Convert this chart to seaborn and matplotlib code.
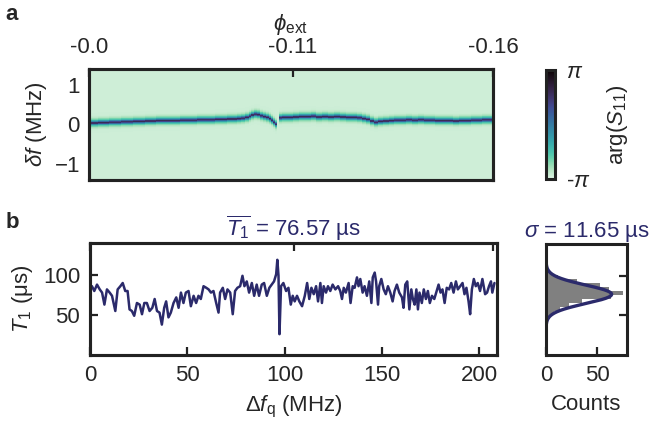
import numpy as np
import seaborn as sns
import matplotlib.pyplot as plt

# ---- data ----
# panel a: resonance position per flux point (nan = line missing)
scan_mhz = [0, 3, 6, 9, 12, 15, 18, 21, 24, 27, 30, 33, 36, 39, 42, 45, 48, 51, 54, 57,
            60, 63, 66, 69, 72, 75, 77, 79, 81, 82.5, 84, 85.5, 87, 88.5, 90, 91.5, 93, 94, 95, 96,
            97, 98, 99.5, 101, 103, 106, 109, 112, 115, 118, 121, 124, 127, 130, 133, 136, 139, 141,
            143, 145, 147, 149, 152, 155, 158, 161, 164, 167, 170, 173, 176, 179, 182, 185, 188,
            191, 194, 197, 200, 203, 206]
res_shift_mhz = [0.04, 0.04, 0.05, 0.05, 0.06, 0.06, 0.07, 0.07, 0.08, 0.08, 0.09, 0.09, 0.10,
                 0.10, 0.10, 0.10, 0.11, 0.11, 0.11, 0.12, 0.12, 0.12, 0.13, 0.13, 0.14, 0.14,
                 0.15, 0.16, 0.18, 0.21, 0.24, 0.26, 0.25, 0.22, 0.20, 0.18, 0.15, 0.11, 0.06, 0.01,
                 np.nan, 0.17, 0.18, 0.18, 0.18, 0.19, 0.20, 0.20, 0.21, 0.19, 0.20, 0.19, 0.20,
                 0.19, 0.18, 0.18, 0.17, 0.15, 0.13, 0.09, 0.06, 0.08, 0.09, 0.10, 0.11, 0.11,
                 0.12, 0.11, 0.12, 0.11, 0.11, 0.10, 0.10, 0.10, 0.09, 0.10, 0.10, 0.11, 0.11,
                 0.12, 0.12]

phi_tick_mhz = [0, 104.5, 207]
phi_labels = ["-0.0", "-0.11", "-0.16"]

# panel b: T1 trace
freq_mhz = [0.0, 1.0, 2.2, 3.6, 5.0, 6.2, 7.4, 8.7, 10.1, 11.3,
            13.0, 14.2, 15.6, 16.8, 18.1, 19.3, 20.3, 21.5, 22.7, 24.1,
            25.5, 26.7, 27.9, 29.2, 30.6, 32.0, 33.2, 34.4, 35.7, 36.9,
            38.1, 39.1, 40.3, 41.5, 42.9, 44.3, 45.5, 46.7, 48.0, 49.2,
            50.6, 51.8, 53.2, 54.5, 55.7, 56.9, 58.3, 59.7, 60.9, 62.1,
            63.4, 64.8, 66.0, 66.8, 68.2, 69.4, 70.6, 72.0, 73.3, 74.5,
            75.7, 77.1, 78.3, 79.3, 80.5, 81.7, 83.1, 84.3, 85.6, 86.8,
            88.2, 89.4, 90.8, 92.1, 93.3, 94.5, 95.6, 96.2, 96.8, 97.3,
            98.1, 99.3, 100.7, 101.9, 103.1, 104.1,
            105.1, 106.3, 107.5, 108.9, 110.3, 111.5, 112.6, 113.7, 114.9, 116.1,
            117.1, 118.3, 119.1, 120.0, 121.2, 122.2, 123.4, 124.6, 126.0, 127.4,
            128.5, 129.4, 130.3, 131.4, 132.8, 133.8, 134.9, 135.9, 137.1, 137.9,
            138.8, 140.0, 141.0, 142.2, 143.4, 144.5, 145.2, 146.2, 146.9, 147.9,
            148.5, 149.6, 150.8, 151.9, 153.0, 154.2, 155.4, 156.4, 157.6, 158.8,
            160.2, 161.0, 161.9, 162.9, 164.0, 165.0, 165.8, 166.7, 167.6, 168.4,
            169.2, 170.4, 171.4, 172.5, 173.5, 174.5, 175.6, 176.8, 177.8, 179.0,
            180.0, 181.0, 182.1, 183.2, 184.4, 185.5, 186.7, 187.9, 188.9, 190.1,
            191.3, 192.3, 193.3, 194.4, 195.2, 196.1, 197.1, 198.1, 199.1, 200.3,
            201.5, 202.9, 203.9, 204.9, 205.9, 206.6, 207.7]
t1_us = [84, 86, 80, 88, 82, 78, 63, 82, 78, 74,
         55, 82, 86, 90, 80, 80, 57, 55, 49, 65,
         63, 51, 65, 65, 55, 59, 70, 55, 53, 38,
         59, 67, 47, 53, 65, 72, 59, 78, 65, 78,
         80, 61, 74, 65, 74, 70, 86, 84, 82, 78,
         80, 65, 53, 78, 84, 70, 82, 78, 51, 80,
         84, 86, 99, 86, 92, 78, 90, 74, 88, 74,
         88, 90, 74, 84, 88, 92, 101, 119, 99, 26,
         86, 90, 80, 84, 63, 74,
         67, 74, 67, 61, 74, 90, 70, 84, 76, 86,
         67, 90, 65, 86, 78, 86, 80, 88, 82, 86,
         80, 70, 84, 78, 90, 65, 86, 84, 97, 86,
         95, 78, 86, 74, 92, 65, 97, 103, 92, 63,
         86, 95, 82, 76, 86, 78, 67, 80, 88, 78,
         72, 59, 88, 92, 57, 82, 70, 63, 82, 57,
         78, 65, 82, 70, 80, 65, 74, 70, 78, 88,
         78, 82, 65, 84, 82, 90, 78, 92, 82, 86,
         90, 76, 84, 67, 51, 82, 95, 86, 90, 80,
         95, 76, 78, 86, 92, 78, 90]

# histogram of T1 (bin edges in us, counts)
hist_edges = [41, 46, 51, 56, 61, 66, 71, 76, 81, 86, 91, 96, 101, 106, 111, 116]
hist_counts = [2, 4, 8, 14, 22, 35, 63, 75, 61, 53, 30, 12, 5, 2, 1]
t1_mean = 76.57
t1_sigma = 11.65
fit_peak = 64

# ---- style ----
sns.set_style("ticks")
plt.rcParams['font.family'] = ['Liberation Sans', 'DejaVu Sans']
plt.rcParams['mathtext.fontset'] = 'custom'
plt.rcParams['mathtext.rm'] = 'Liberation Sans'
plt.rcParams['mathtext.it'] = 'Liberation Sans:italic'
plt.rcParams['mathtext.bf'] = 'Liberation Sans:bold'
plt.rcParams['font.size'] = 16
plt.rcParams['axes.linewidth'] = 2.2
plt.rcParams['axes.edgecolor'] = '#222222'

navy = '#2b2a6b'
fs = 16
cmap = sns.color_palette("mako_r", as_cmap=True)

fig = plt.figure(figsize=(6.5, 4.25), dpi=100)
W, H = 650, 425


def box(l, t, r, b):
    return [l / W, (H - b) / H, (r - l) / W, (b - t) / H]


def style_ticks(ax, pad=6.5):
    ax.tick_params(direction='in', length=6, width=1.6, color='#222222',
                   labelsize=fs, pad=pad)


# ---- panel a ----
axa = fig.add_axes(box(89, 69, 493, 180))
df_grid = np.linspace(-1.4, 1.4, 281)
shift = np.array(res_shift_mhz)
present = np.where(np.isnan(shift), 0.0, 1.0)
dist = df_grid[:, None] - np.nan_to_num(shift)[None, :]
core = np.exp(-(dist / 0.035) ** 2)
halo = np.exp(-(dist / 0.09) ** 2)
bg = 0.035
level = bg + present * (0.38 * halo + 0.38 * core)
phase = -np.pi + 2 * np.pi * np.clip(level, 0, 1)
mesh = axa.pcolormesh(scan_mhz, df_grid, phase, cmap=cmap, vmin=-np.pi, vmax=np.pi,
                      shading='nearest', rasterized=True)
axa.set_xlim(0, 207)
axa.set_ylim(-1.4, 1.4)
axa.set_xticks([50, 100, 150, 200])
axa.set_xticklabels([])
axa.set_yticks([-1, 0, 1])
axa.set_ylabel(r"$\delta f$ (MHz)", fontsize=fs, labelpad=4)
style_ticks(axa)

axa_top = axa.twiny()
axa_top.set_xlim(axa.get_xlim())
axa_top.set_xticks(phi_tick_mhz)
axa_top.set_xticklabels(phi_labels)
axa_top.set_xlabel(r"$\phi_{\rm ext}$", fontsize=fs, labelpad=5)
style_ticks(axa_top, pad=8)

cax = fig.add_axes(box(546, 70, 555, 179))
cb = fig.colorbar(mesh, cax=cax, ticks=[-np.pi, np.pi])
cb.ax.set_yticklabels([r"-$\pi$", r"$\pi$"])
cb.ax.tick_params(length=0, labelsize=fs, pad=8)
cb.outline.set_linewidth(2.2)
cb.outline.set_edgecolor('#222222')
cb.set_label(r"arg($S_{11}$)", fontsize=fs, labelpad=10)

fig.text(12 / W, 1 - 15 / H, "a", fontsize=fs, fontweight='bold', ha='center', va='center')

# ---- panel b ----
axb = fig.add_axes(box(90, 243, 497, 355))
sns.lineplot(x=freq_mhz, y=t1_us, ax=axb, color=navy, linewidth=1.8, estimator=None)
axb.set_xlim(0, 209)
axb.set_ylim(0, 140)
axb.set_xticks([0, 50, 100, 150, 200])
axb.set_yticks([50, 100])
axb.set_xlabel(r"$\Delta f_{\rm q}$ (MHz)", fontsize=fs, labelpad=6)
axb.set_ylabel(r"$T_1$ ($\mathrm{\mu}$s)", fontsize=fs, labelpad=6)
axb.set_title(r"$\overline{T_1}$ = %.2f µs" % t1_mean, color=navy, fontsize=fs, pad=4)
style_ticks(axb, pad=7)

axb_top = axb.twiny()
axb_top.set_xlim(axb.get_xlim())
axb_top.set_xticks(phi_tick_mhz)
axb_top.set_xticklabels([])
style_ticks(axb_top)

axh = fig.add_axes(box(546, 244, 627, 355))
centers = [(a + b) / 2 for a, b in zip(hist_edges[:-1], hist_edges[1:])]
sns.histplot(y=centers, weights=hist_counts, bins=hist_edges, ax=axh, color='#808080',
             alpha=1, linewidth=0)
yy = np.linspace(0, 140, 400)
axh.plot(fit_peak * np.exp(-0.5 * ((yy - t1_mean) / t1_sigma) ** 2), yy, color=navy, lw=2.4)
axh.set_ylim(0, 140)
axh.set_xlim(0, 79)
axh.set_xticks([0, 50])
axh.set_yticks([50, 100])
axh.yaxis.tick_right()
axh.set_yticklabels([])
axh.set_ylabel("")
axh.set_xlabel("Counts", fontsize=fs, labelpad=6)
axh.set_title(r"$\sigma$ = %.2f µs" % t1_sigma, color=navy, fontsize=fs, pad=4)
style_ticks(axh, pad=7)

fig.text(12 / W, 1 - 222 / H, "b", fontsize=fs, fontweight='bold', ha='center', va='center')

fig.savefig("out.png", dpi=100)
